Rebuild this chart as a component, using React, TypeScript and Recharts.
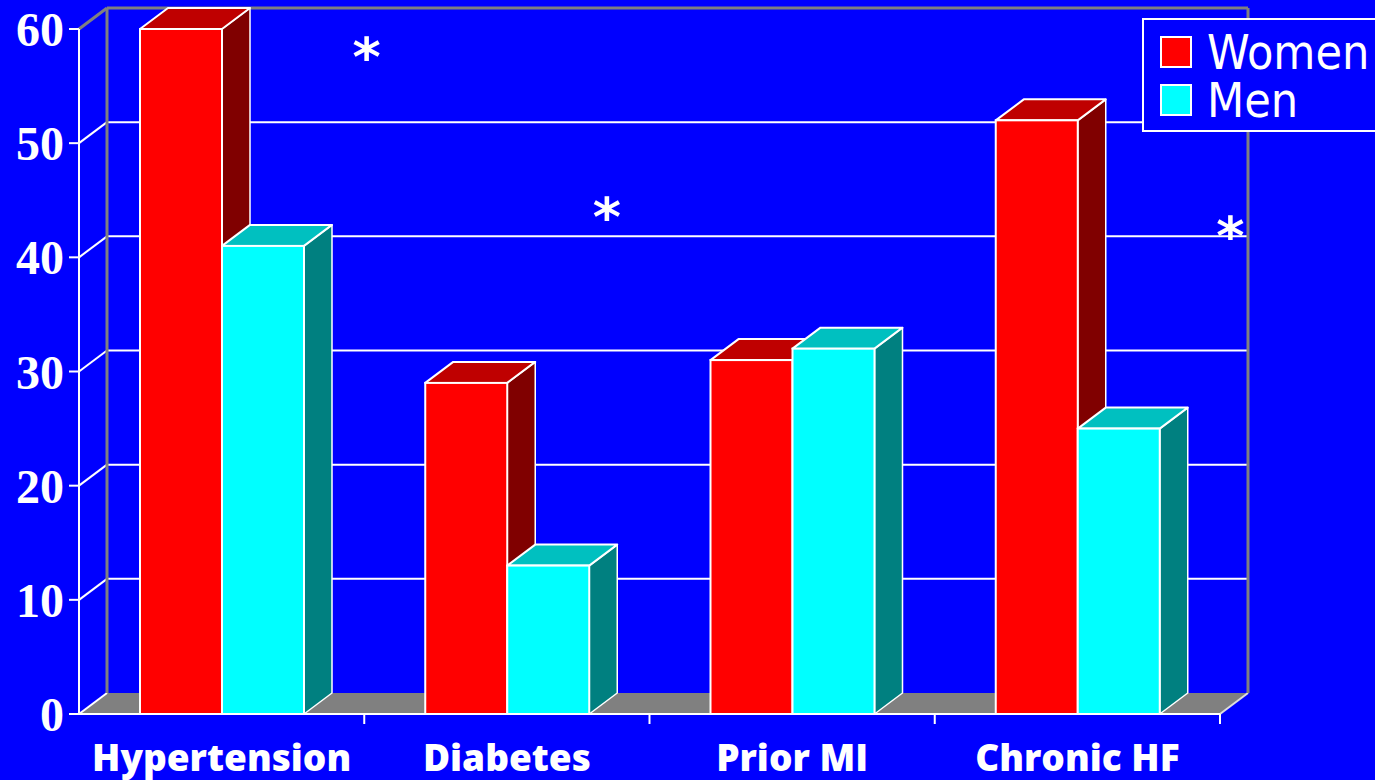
/**
 * Risk factors by sex - 3D-style grouped bars on a blue slide background.
 */

import React from 'react';
import { BarChart, Bar, XAxis, YAxis, CartesianGrid, Legend, ReferenceDot } from 'recharts';

const categories = ['Hypertension', 'Diabetes', 'Prior MI', 'Chronic HF'];
const women = [60, 29, 31, 52];
const men = [41, 13, 32, 25];
const yTicks = [0, 10, 20, 30, 40, 50, 60];
const seriesNames = ['Women', 'Men'];
// significance markers (*)
const sigCategories = ['Hypertension', 'Diabetes', 'Chronic HF'];
const sigLevels = [58.3, 44.3, 42.7];

const data = categories.map((c, i) => ({ category: c, Women: women[i], Men: men[i] }));

// layout
const W = 1375;
const H = 780;
const PLOT_LEFT = 79;
const PLOT_TOP = 29;
const PLOT_RIGHT = 1220;
const PLOT_BOTTOM = 714;
const DX = 28; // depth offset
const DY = 21;
const HALF_BAND = (PLOT_RIGHT - PLOT_LEFT) / categories.length / 2;
const SIG_DX = [145, 100, 153];

const BG = '#0000FF';
const GRAY = '#808080';
const COLORS: Record<string, { front: string; top: string; side: string }> = {
  Women: { front: '#FF0000', top: '#BF0000', side: '#800000' },
  Men: { front: '#00FFFF', top: '#00C0C0', side: '#008080' },
};

const Box3D = (props: any) => {
  const { x, y, width, height, name } = props;
  const c = COLORS[name];
  if (width == null || height == null) return null;
  const r = x + width;
  const b = y + height;
  return (
    <g>
      <polygon
        points={`${r},${y} ${r + DX},${y - DY} ${r + DX},${b - DY} ${r},${b}`}
        fill={c.side}
        stroke="#fff"
        strokeWidth={1.5}
        strokeLinejoin="round"
      />
      <polygon
        points={`${x},${y} ${x + DX},${y - DY} ${r + DX},${y - DY} ${r},${y}`}
        fill={c.top}
        stroke="#fff"
        strokeWidth={2}
        strokeLinejoin="round"
      />
      <rect x={x} y={y} width={width} height={height} fill={c.front} stroke="#fff" strokeWidth={2} />
    </g>
  );
};

const GridLine = (p: any) => {
  const { x1, x2, y1 } = p;
  if (Math.abs(y1 - PLOT_BOTTOM) < 1) {
    return (
      <g>
        <polygon
          points={`${x1},${y1} ${x2},${y1} ${x2 + DX},${y1 - DY} ${x1 + DX},${y1 - DY}`}
          fill={GRAY}
        />
        <line x1={x1} y1={y1} x2={x1 + DX} y2={y1 - DY} stroke="#fff" strokeWidth={2} />
        <line x1={x2} y1={y1} x2={x2 + DX} y2={y1 - DY} stroke="#ddd" strokeWidth={2} />
      </g>
    );
  }
  if (Math.abs(y1 - PLOT_TOP) < 1) {
    return (
      <g stroke={GRAY} strokeWidth={3}>
        <line x1={x1} y1={y1} x2={x1 + DX} y2={y1 - DY} />
        <line x1={x1 + DX} y1={y1 - DY} x2={x2 + DX} y2={y1 - DY} />
        <line x1={x1 + DX} y1={y1 - DY} x2={x1 + DX} y2={PLOT_BOTTOM - DY} />
        <line x1={x2 + DX} y1={y1 - DY} x2={x2 + DX} y2={PLOT_BOTTOM - DY} />
      </g>
    );
  }
  return (
    <g stroke="#fff" strokeWidth={2}>
      <line x1={x1} y1={y1} x2={x1 + DX} y2={y1 - DY} />
      <line x1={x1 + DX} y1={y1 - DY} x2={x2 + DX} y2={y1 - DY} />
    </g>
  );
};

const XTick = (p: any) => {
  const { x, payload } = p;
  return (
    <g>
      <line
        x1={x + HALF_BAND}
        y1={PLOT_BOTTOM}
        x2={x + HALF_BAND}
        y2={PLOT_BOTTOM + 10}
        stroke="#fff"
        strokeWidth={2}
      />
      <text
        x={x}
        y={PLOT_BOTTOM + 57}
        textAnchor="middle"
        fill="#fff"
        fontFamily="'Open Sans', sans-serif"
        fontWeight={800}
        fontSize={37}
      >
        {payload.value}
      </text>
    </g>
  );
};

const LegendBox = () => (
  <div
    style={{
      boxSizing: 'border-box',
      width: 250,
      height: 114,
      border: '2px solid #fff',
      background: BG,
      paddingTop: 8,
      color: '#fff',
      fontFamily: "'DejaVu Sans Condensed', 'Liberation Sans', sans-serif",
      fontSize: 48,
    }}
  >
    {seriesNames.map((n) => (
      <div key={n} style={{ display: 'flex', alignItems: 'center', height: 48, lineHeight: '44px', marginLeft: 16 }}>
        <span
          style={{
            display: 'inline-block',
            boxSizing: 'border-box',
            width: 32,
            height: 32,
            background: COLORS[n].front,
            border: '2px solid #fff',
            marginRight: 15,
          }}
        />
        <span>{n}</span>
      </div>
    ))}
  </div>
);

export default function App() {
  return (
    <div
      style={{
        position: 'fixed',
        left: 0,
        top: 0,
        width: W,
        height: H,
        overflow: 'hidden',
        background: BG,
      }}
    >
      <BarChart
        width={W}
        height={H}
        data={data}
        margin={{ top: PLOT_TOP, right: W - PLOT_RIGHT, left: 0, bottom: 0 }}
        barGap={0}
        barSize={82}
      >
        <CartesianGrid vertical={false} horizontal={GridLine as any} />
        <XAxis
          dataKey="category"
          height={H - PLOT_BOTTOM}
          axisLine={{ stroke: '#fff', strokeWidth: 2 }}
          tickLine={false}
          tickSize={10}
          tickMargin={0}
          interval={0}
          tick={XTick}
        />
        <YAxis
          width={PLOT_LEFT}
          domain={[0, 60]}
          ticks={yTicks}
          interval={0}
          axisLine={{ stroke: '#fff', strokeWidth: 2 }}
          tickLine={{ stroke: '#fff', strokeWidth: 2 }}
          tickSize={10}
          tickMargin={5}
          tick={{ fill: '#fff', fontFamily: "'Liberation Serif', serif", fontWeight: 700, fontSize: 48 }}
        />
        <Legend
          layout="vertical"
          align="center"
          verticalAlign="middle"
          wrapperStyle={{ position: 'absolute', left: 1142, top: 18, width: 250, height: 114 }}
          content={() => <LegendBox />}
        />
        <Bar dataKey="Women" name="Women" isAnimationActive={false} shape={(p: any) => <Box3D {...p} name="Women" />} />
        <Bar dataKey="Men" name="Men" isAnimationActive={false} shape={(p: any) => <Box3D {...p} name="Men" />} />
        {sigCategories.map((c, i) => (
          <ReferenceDot
            key={c}
            x={c}
            y={sigLevels[i]}
            r={0}
            ifOverflow="visible"
            shape={(p: any) => (
              <text
                x={p.cx + SIG_DX[i]}
                y={p.cy + 28}
                textAnchor="middle"
                fill="#fff"
                fontFamily="'DejaVu Sans', sans-serif"
                fontWeight={700}
                fontSize={54}
              >
                *
              </text>
            )}
          />
        ))}
      </BarChart>
    </div>
  );
}
